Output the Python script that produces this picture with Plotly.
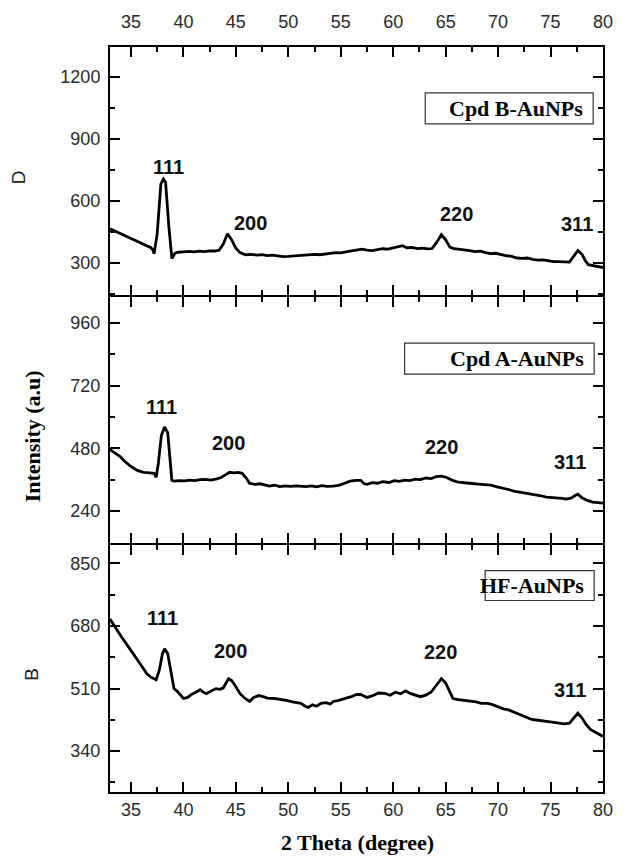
import plotly.graph_objects as go

# ---------------- data ----------------
# Panel D : Cpd B-AuNPs
x_d = [33.0, 33.5, 34.0, 34.5, 35.0, 35.5, 36.0, 36.5, 36.9, 37.1, 37.2, 37.5, 37.85, 38.1,
       38.3, 38.6, 38.9, 39.2, 39.5, 40.0, 40.5, 41.0, 41.5, 42.0, 42.5, 43.0, 43.4, 43.8,
       44.2, 44.6, 45.0, 45.4, 45.9, 46.5, 47.0, 47.5, 48.0, 48.5, 49.0, 49.5, 50.0, 50.5,
       51.0, 51.5, 52.0, 52.5, 53.0, 53.5, 54.0, 54.5, 55.0, 55.5, 56.0, 56.5, 57.0, 57.5,
       58.0, 58.5, 59.0, 59.5, 60.0, 60.5, 60.9, 61.3, 61.8, 62.3, 62.8, 63.3, 63.7, 64.1,
       64.6, 65.0, 65.4, 65.8, 66.3, 66.8, 67.3, 67.8, 68.3, 68.8, 69.3, 69.8, 70.3, 70.8,
       71.3, 71.8, 72.3, 72.8, 73.3, 73.8, 74.3, 74.8, 75.3, 75.8, 76.3, 76.8, 77.2, 77.6,
       78.0, 78.3, 78.6, 79.0, 79.5, 80.0]
y_d = [464, 452, 440, 430, 418, 405, 392, 380, 372, 360, 343, 440, 680, 705,
       690, 480, 319, 345, 350, 352, 354, 352, 355, 353, 357, 356, 360, 390,
       440, 410, 370, 348, 338, 340, 336, 338, 334, 336, 331, 329, 330, 332,
       331, 336, 336, 340, 338, 343, 345, 348, 347, 352, 356, 360, 365, 360,
       358, 363, 367, 365, 370, 375, 382, 372, 374, 368, 370, 366, 368, 395,
       435, 410, 375, 367, 365, 360, 358, 353, 355, 348, 343, 345, 338, 333,
       330, 322, 320, 322, 316, 312, 313, 308, 305, 305, 302, 302, 330, 358,
       340, 310, 290, 285, 280, 276]

# Panel C : Cpd A-AuNPs
x_a = [33.0, 33.5, 34.0, 34.4, 35.0, 35.6, 36.2, 36.8, 37.2, 37.4, 37.6, 37.9, 38.2, 38.5,
       38.7, 38.9, 39.1, 39.6, 40.1, 40.6, 41.1, 41.6, 42.1, 42.6, 43.1, 43.6, 44.0, 44.4,
       44.8, 45.2, 45.6, 46.0, 46.3, 46.8, 47.3, 47.8, 48.2, 48.7, 49.2, 49.7, 50.2, 50.7,
       51.2, 51.7, 52.2, 52.7, 53.2, 53.7, 54.3, 54.8, 55.3, 55.9, 56.4, 56.9, 57.2, 57.5,
       58.0, 58.5, 59.0, 59.6, 60.1, 60.6, 61.1, 61.6, 62.1, 62.6, 63.1, 63.6, 64.1, 64.6,
       65.1, 65.6, 66.2, 66.9, 67.5, 68.1, 68.7, 69.3, 69.9, 70.5, 71.0, 71.5, 72.0, 72.5,
       73.0, 73.6, 74.1, 74.6, 75.1, 75.6, 76.1, 76.5, 77.0, 77.3, 77.6, 78.0, 78.5, 79.0,
       79.5, 80.0]
y_a = [475, 462, 447, 430, 410, 395, 388, 386, 384, 369, 420, 530, 562, 540,
       440, 357, 354, 356, 355, 358, 356, 360, 361, 358, 362, 368, 378, 388,
       386, 388, 384, 365, 346, 342, 344, 338, 335, 339, 333, 336, 334, 336,
       335, 333, 336, 332, 337, 334, 335, 338, 345, 354, 357, 357, 345, 342,
       348, 346, 352, 349, 356, 353, 358, 356, 362, 360, 366, 364, 371, 373,
       368, 358, 350, 346, 345, 343, 342, 339, 332, 328, 322, 316, 313, 310,
       307, 303, 298, 293, 292, 290, 288, 285, 290, 298, 304, 290, 280, 274,
       272, 270]

# Panel B : HF-AuNPs
x_h = [33.0, 33.3, 33.7, 34.1, 34.6, 35.1, 35.6, 36.0, 36.5, 36.9, 37.4, 37.7, 38.0, 38.2,
       38.5, 38.8, 39.1, 39.5, 40.0, 40.4, 40.8, 41.2, 41.6, 41.9, 42.2, 42.6, 43.1, 43.5,
       43.8, 44.3, 44.6, 45.0, 45.4, 45.8, 46.3, 46.7, 47.2, 47.6, 48.0, 48.7, 49.2, 49.8,
       50.4, 51.2, 51.6, 51.9, 52.3, 52.7, 53.1, 53.6, 54.0, 54.3, 54.8, 55.4, 56.0, 56.5,
       56.9, 57.5, 58.0, 58.6, 59.2, 59.7, 60.2, 60.7, 61.2, 61.6, 62.1, 62.6, 63.1, 63.6,
       64.0, 64.6, 65.0, 65.4, 65.7, 66.2, 66.8, 67.3, 67.9, 68.4, 69.0, 69.4, 70.0, 70.5,
       71.0, 71.5, 72.0, 72.6, 73.2, 73.8, 74.3, 74.8, 75.3, 75.8, 76.3, 76.8, 77.2, 77.6,
       78.0, 78.4, 78.8, 79.2, 79.6, 80.0]
y_h = [699, 685, 669, 650, 630, 610, 591, 572, 551, 541, 534, 560, 605, 618,
       605, 560, 510, 500, 483, 486, 495, 500, 507, 500, 496, 503, 510, 508,
       512, 537, 532, 515, 496, 485, 475, 486, 491, 488, 484, 483, 481, 478,
       474, 470, 462, 459, 466, 462, 470, 472, 468, 475, 478, 482, 488, 494,
       494, 486, 490, 498, 497, 492, 500, 496, 504, 497, 493, 488, 492, 500,
       515, 537, 525, 500, 483, 480, 478, 476, 474, 470, 470, 467, 460, 455,
       452, 446, 440, 432, 426, 424, 421, 420, 418, 416, 414, 416, 430, 443,
       430, 412, 399, 393, 386, 380]

peak_labels = ["111", "200", "220", "311"]
# label anchor positions (2θ, intensity) per panel
lab_d_x = [38.6, 46.4, 66.0, 77.5]
lab_d_y = [762, 493, 536, 488]
lab_a_x = [37.9, 44.3, 64.6, 76.9]
lab_a_y = [638, 502, 486, 426]
lab_h_x = [38.0, 44.5, 64.5, 76.9]
lab_h_y = [702, 612, 610, 507]

sample_names = ["Cpd B-AuNPs", "Cpd A-AuNPs", "HF-AuNPs"]

x_range = [33, 80]
y_range_d = [141, 1345]
y_range_a = [118, 1059]
y_range_h = [229, 901]

# ---------------- figure ----------------
fig = go.Figure()
line = dict(color="black", width=2.8)
fig.add_trace(go.Scatter(x=x_d, y=y_d, mode="lines", line=line, xaxis="x3", yaxis="y3", showlegend=False))
fig.add_trace(go.Scatter(x=x_a, y=y_a, mode="lines", line=line, xaxis="x2", yaxis="y2", showlegend=False))
fig.add_trace(go.Scatter(x=x_h, y=y_h, mode="lines", line=line, xaxis="x", yaxis="y", showlegend=False))

tickfont = dict(family="Liberation Sans, Arial", size=18, color="#2a2a2a")

def xax(anchor, side, labels, standoff=0):
    d = dict(range=x_range, anchor=anchor, side=side, showticklabels=labels,
             tick0=35, dtick=5, ticks="inside", ticklen=10, tickwidth=2, tickcolor="black",
             minor=dict(dtick=2.5, tick0=35, ticks="inside", ticklen=5, tickwidth=2, tickcolor="black"),
             showline=True, linewidth=2, linecolor="black", mirror="allticks",
             showgrid=False, zeroline=False, tickfont=tickfont, fixedrange=True)
    if standoff:
        d["ticklabelstandoff"] = standoff
    return d

def yax(rng, dtick, anchor, domain):
    return dict(range=rng, anchor=anchor, domain=domain, tick0=0, dtick=dtick,
                ticks="inside", ticklen=10, tickwidth=2, tickcolor="black",
                minor=dict(dtick=dtick / 2, ticks="inside", ticklen=5, tickwidth=2, tickcolor="black"),
                showline=True, linewidth=2, linecolor="black", mirror="allticks",
                showgrid=False, zeroline=False, tickfont=tickfont, fixedrange=True,
                ticklabelstandoff=4)

g = 1.0 / 747  # half of the 2px line width, in paper units
fig.update_layout(
    width=625, height=858,
    margin=dict(l=110, r=13, t=45, b=66),
    plot_bgcolor="white", paper_bgcolor="white",
    xaxis=xax("y", "bottom", True),
    xaxis2=xax("y2", "bottom", False),
    xaxis3=xax("y3", "top", True, standoff=10),
    yaxis=yax(y_range_h, 170, "x", [0, 0.3333 - g]),
    yaxis2=yax(y_range_a, 240, "x2", [0.3333 + g, 0.6653 - g]),
    yaxis3=yax(y_range_d, 300, "x3", [0.6653 + g, 1.0]),
)

ann = []
labfont = dict(family="Liberation Sans, Arial", size=20, color="#111")
for xs, ys, ax in [(lab_d_x, lab_d_y, "3"), (lab_a_x, lab_a_y, "2"), (lab_h_x, lab_h_y, "")]:
    for t, xv, yv in zip(peak_labels, xs, ys):
        ann.append(dict(x=xv, y=yv, xref="x" + ax, yref="y" + ax, text="<b>" + t + "</b>",
                        showarrow=False, font=labfont, xanchor="center", yanchor="middle"))

serif_b = dict(family="Liberation Serif, Times New Roman", size=22, color="black")
PW, PH, L, T = 502, 747, 110, 45
def px(xp): return (xp - L) / PW
def py(yp): return 1 - (yp - T) / PH

boxes = [(431, 602, 91, 122), (410, 603, 342, 373), (492, 603, 570, 600)]
shapes = []
for name, (x0, x1, y0, y1) in zip(sample_names, boxes):
    shapes.append(dict(type="rect", xref="paper", yref="paper", x0=px(x0), x1=px(x1),
                       y0=py(y1), y1=py(y0), line=dict(color="#333", width=1.2), fillcolor="white"))
    ann.append(dict(x=px(x1 - 8), y=py((y0 + y1) / 2), xref="paper", yref="paper",
                    text="<b>" + name + "</b>", showarrow=False, font=serif_b,
                    xanchor="right", yanchor="middle"))

ann.append(dict(x=px(17), y=py(176), xref="paper", yref="paper", text="D", textangle=-90,
                xanchor="center", yanchor="middle",
                showarrow=False, font=dict(family="Liberation Sans, Arial", size=19, color="#222")))
ann.append(dict(x=px(32), y=py(435), xref="paper", yref="paper", text="<b>Intensity (a.u)</b>",
                xanchor="center", yanchor="middle",
                textangle=-90, showarrow=False, font=serif_b))
ann.append(dict(x=px(30), y=py(674), xref="paper", yref="paper", text="B", textangle=-90,
                xanchor="center", yanchor="middle",
                showarrow=False, font=dict(family="Liberation Sans, Arial", size=19, color="#222")))
ann.append(dict(x=px(362), y=py(857), xref="paper", yref="paper", text="<b>2 Theta (degree)</b>",
                xanchor="center", yanchor="bottom",
                showarrow=False, font=serif_b))

fig.update_layout(annotations=ann, shapes=shapes)
fig.write_html("out.html")
